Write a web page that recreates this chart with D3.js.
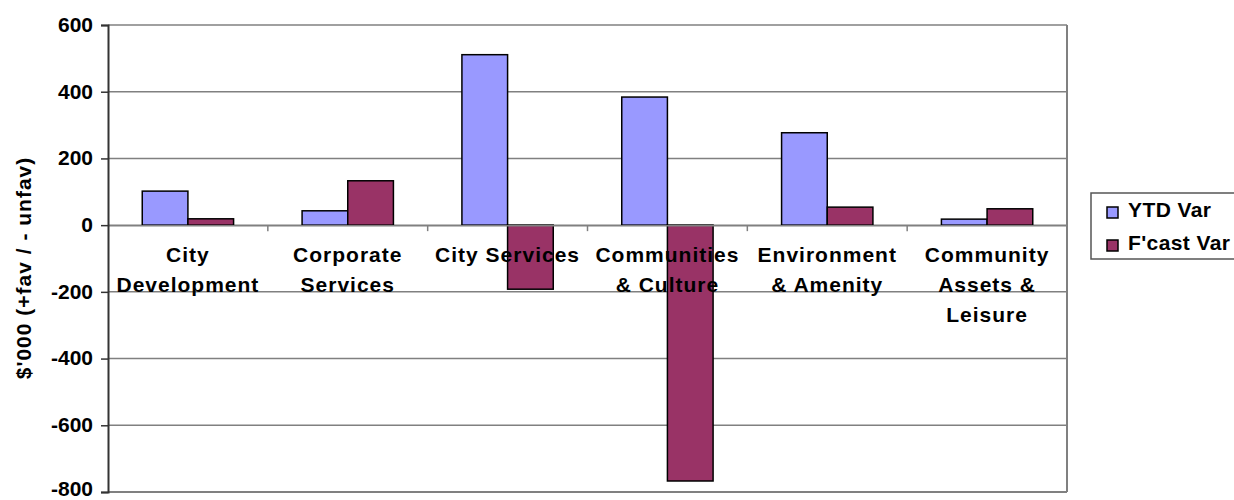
<!DOCTYPE html>
<html lang="en">
<head>
	<meta charset="UTF-8">
	<title>Variance by Directorate</title>
	<script src="https://cdn.jsdelivr.net/npm/d3@7/dist/d3.min.js"></script>
	<style>
		body{margin:0;background:#fff;}
		text{font-family:"Liberation Sans",Arial,sans-serif;font-weight:bold;fill:#000;}
	</style>
</head>
<body>
<script type="text/javascript">
// data
var categories = ["City Development","Corporate Services","City Services","Communities & Culture","Environment & Amenity","Community Assets & Leisure"];
var labelLines = [["City","Development"],["Corporate","Services"],["City Services"],["Communities","& Culture"],["Environment","& Amenity"],["Community","Assets &","Leisure"]];
var series = ["YTD Var","F'cast Var"];
var ytdVar = [102,43,511,384,277,18];
var fcastVar = [19,133,-192,-767,54,49];
var yTicks = [-800,-600,-400,-200,0,200,400,600];
var colors = ["#9999ff","#993366"];

var width = 1234, height = 500;
var svg = d3.select("body").append("svg").attr("width",width).attr("height",height);

var plot = {left:108,right:1067,top:25,bottom:492};

//x比例尺
var xScale = d3.scaleBand().domain(categories).range([plot.left,plot.right]);
var bw = xScale.bandwidth()/3.5;
var xInner = d3.scaleBand().domain(series).range([0.75*bw,2.75*bw]);
//y比例尺
var yScale = d3.scaleLinear().domain([-800,600]).range([plot.bottom,plot.top]);

// gridlines
svg.append("g").selectAll("line").data(yTicks).enter().append("line")
	.attr("x1",plot.left).attr("x2",plot.right)
	.attr("y1",function(d){return yScale(d);}).attr("y2",function(d){return yScale(d);})
	.attr("stroke","#808080").attr("stroke-width",function(d){return d==-800?2:1.5;});
// right border
svg.append("line").attr("x1",plot.right).attr("x2",plot.right)
	.attr("y1",plot.top).attr("y2",plot.bottom).attr("stroke","#808080").attr("stroke-width",2);

// bars
var rows = categories.map(function(c,i){return {cat:c,vals:[ytdVar[i],fcastVar[i]]};});
var groups = svg.append("g").selectAll("g").data(rows).enter().append("g")
	.attr("transform",function(d){return "translate("+xScale(d.cat)+",0)";});
groups.selectAll("rect").data(function(d){return d.vals.map(function(v,j){return {s:series[j],v:v,j:j};});})
	.enter().append("rect")
	.attr("x",function(d){return xInner(d.s);})
	.attr("width",xInner.bandwidth())
	.attr("y",function(d){return yScale(Math.max(0,d.v));})
	.attr("height",function(d){return Math.abs(yScale(d.v)-yScale(0));})
	.attr("fill",function(d){return colors[d.j];})
	.attr("stroke","#000").attr("stroke-width",1.5);

// category axis at zero
var xAxis = d3.axisBottom(xScale).tickSize(0).tickFormat("");
var xg = svg.append("g").attr("transform","translate(0,"+yScale(0)+")").call(xAxis);
xg.select(".domain").attr("stroke","#808080").attr("stroke-width",1.5);
// boundary ticks
var bounds = categories.slice(1).map(function(c){return xScale(c);});
xg.selectAll(".btick").data(bounds).enter().append("line").attr("class","btick")
	.attr("x1",function(d){return d;}).attr("x2",function(d){return d;})
	.attr("y1",0).attr("y2",6).attr("stroke","#808080").attr("stroke-width",1.5);

// category labels
var lab = svg.append("g").selectAll("text").data(categories).enter().append("text")
	.attr("text-anchor","middle").attr("font-size","21px").attr("letter-spacing","1px")
	.attr("x",function(d){return xScale(d)+xScale.bandwidth()/2;})
	.attr("y",262);
lab.selectAll("tspan").data(function(d,i){return labelLines[i];}).enter().append("tspan")
	.attr("x",function(){return d3.select(this.parentNode).attr("x");})
	.attr("dy",function(d,i){return i==0?0:30;})
	.text(function(d){return d;});

// y axis
var yAxis = d3.axisLeft(yScale).tickValues(yTicks).tickSize(7).tickPadding(8)
	.tickFormat(function(d){return String(d);});
var yg = svg.append("g").attr("transform","translate("+plot.left+",0)").call(yAxis);
yg.select(".domain").attr("stroke","#333").attr("stroke-width",2);
yg.selectAll(".tick line").attr("stroke","#333").attr("stroke-width",1.5);
yg.selectAll(".tick text").attr("font-size","21px").attr("font-family","Liberation Sans, Arial, sans-serif")
	.attr("font-weight","bold").attr("fill","#000")
	.attr("dy",function(d){return d==-800?"0.15em":"0.3em";});

// y title
svg.append("text").attr("transform","translate(31,268) rotate(-90)")
	.attr("text-anchor","middle").attr("font-size","21px").attr("letter-spacing","1px")
	.text("$'000 (+fav / - unfav)");

// legend
var lg = svg.append("g").attr("transform","translate(1091,193)");
lg.append("rect").attr("width",160).attr("height",66).attr("fill","#fff").attr("stroke","#555").attr("stroke-width",1.5);
var li = lg.selectAll(".item").data(series).enter().append("g").attr("class","item")
	.attr("transform",function(d,i){return "translate(16,"+(14+i*33)+")";});
li.append("rect").attr("width",11).attr("height",11)
	.attr("fill",function(d,i){return colors[i];}).attr("stroke","#000").attr("stroke-width",1.5);
li.append("text").attr("x",21).attr("y",10).attr("font-size","21px").attr("letter-spacing","0.4px")
	.text(function(d){return d;});
</script>
</body>
</html>
